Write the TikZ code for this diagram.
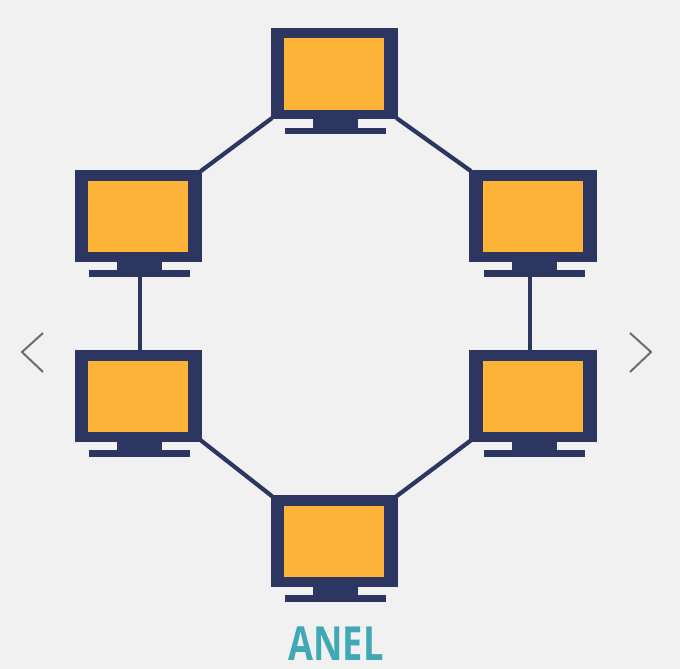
\documentclass[tikz,border=0pt]{standalone}
\usepackage{fontspec}
\usetikzlibrary{backgrounds}
\setmainfont{Open Sans}
\definecolor{bgc}{HTML}{F1F1F1}
\definecolor{navy}{HTML}{2D3561}
\definecolor{amber}{HTML}{FDB338}
\definecolor{teal2}{HTML}{41A9B6}
\definecolor{chev}{HTML}{6E6E6E}
\tikzset{
  part/.style={rectangle,inner sep=0pt,outer sep=0pt,draw=none},
  bodybox/.style={part,fill=navy,minimum width=127.6pt,minimum height=91.5pt},
  screenbox/.style={part,fill=amber,minimum width=100pt,minimum height=71.5pt},
  neckbox/.style={part,fill=navy,minimum width=45pt,minimum height=10pt},
  basebox/.style={part,fill=navy,minimum width=100.5pt,minimum height=6.6pt},
  link/.style={draw=navy,line width=4.2pt,shorten <=-2pt,shorten >=-2pt},
  chevron/.style={draw=chev,line width=2pt},
}
% name, centre x, top y of the body
\newcommand{\monitor}[3]{%
  \node[neckbox] (#1neck) at (#2+1.2,#3+96) {};
  \node[basebox] (#1base) at (#2+1.1,#3+103.3) {};
  \node[bodybox] (#1) at (#2,#3+45.75) {};
  \node[screenbox] (#1screen) at (#2-.2,#3+46.3) {};
}
\begin{document}
\begin{tikzpicture}[x=1pt,y=-1pt]
\useasboundingbox (0,0) rectangle (680,669);
\monitor{top}{334.3}{27.7}
\monitor{lt}{138.5}{170}
\monitor{rt}{533.2}{170}
\monitor{lb}{138.5}{350}
\monitor{rb}{533.2}{350}
\monitor{bot}{334.3}{495}
\begin{pgfonlayer}{background}
\fill[bgc] (0,0) rectangle (680,669);
\draw[link] (top.south west) -- (lt.north east);
\draw[link] (top.south east) -- (rt.north west);
\draw[link] (ltbase.south) -- (ltbase.south |- lb.north);
\draw[link] ([xshift=-4.5pt]rtbase.south) -- ([xshift=-4.5pt]rtbase.south |- rb.north);
\draw[link] (lb.south east) -- (bot.north west);
\draw[link] (rb.south west) -- (bot.north east);
\end{pgfonlayer}
\node[part,text=teal2,font=\bfseries\fontsize{47}{47}\selectfont,xscale=.77] (label) at (336,643.7) {ANEL};
\draw[chevron] (43,333) -- (22,352) -- (43,372);
\draw[chevron] (630,333) -- (651,352) -- (630,372);
\end{tikzpicture}
\end{document}
